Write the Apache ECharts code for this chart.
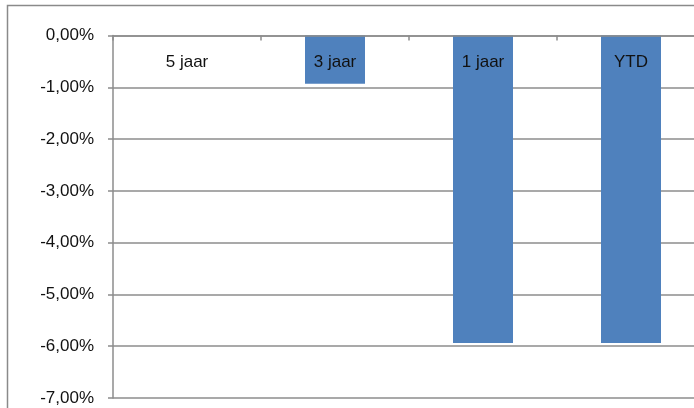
<!DOCTYPE html>
<html><head><meta charset="utf-8">
<script src="https://cdn.jsdelivr.net/npm/echarts@6/dist/echarts.min.js"></script>
<style>html,body{margin:0;padding:0;background:#fff}#c{width:694px;height:408px}</style>
</head><body><div id="c"></div>
<script>
const categories = ['5 jaar', '3 jaar', '1 jaar', 'YTD'];
const values = [0, -0.93, -5.94, -5.94];
const yTicks = [0, -1, -2, -3, -4, -5, -6, -7];

const chart = echarts.init(document.getElementById('c'), null, {renderer: 'canvas'});
const gridColor = '#8c8c8c';
const font = 'Liberation Sans, Arial, sans-serif';
chart.setOption({
  animation: false,
  backgroundColor: '#fff',
  graphic: [{
    type: 'rect', shape: {x: 7.5, y: 5.5, width: 800, height: 500},
    style: {fill: 'none', stroke: '#8a8a8a', lineWidth: 1.5}, z: 100
  }],
  grid: {left: 113, top: 35.5, right: -11, bottom: 10, containLabel: false, outerBoundsMode: 'none'},
  xAxis: {
    type: 'category', data: categories, position: 'top',
    axisLine: {show: true, lineStyle: {color: gridColor, width: 1.5}},
    axisTick: {show: true, inside: true, length: 5, alignWithLabel: false, lineStyle: {color: gridColor, width: 1.5}},
    axisLabel: {inside: true, color: '#111', fontFamily: font, fontSize: 17, margin: 18},
    splitLine: {show: false}, z: 10
  },
  yAxis: {
    type: 'value', min: yTicks[yTicks.length - 1], max: yTicks[0], interval: 1,
    axisLine: {show: true, lineStyle: {color: gridColor, width: 1.5}},
    axisTick: {show: true, length: 5, lineStyle: {color: gridColor, width: 1.5}},
    axisLabel: {color: '#111', fontFamily: font, fontSize: 17, margin: 19,
      formatter: v => v.toFixed(2).replace('.', ',') + '%'},
    splitLine: {show: true, lineStyle: {color: gridColor, width: 1.5}}
  },
  series: [{
    type: 'bar', data: values, barWidth: 60,
    itemStyle: {color: '#4F81BD'}, z: 2
  }]
});
</script></body></html>
